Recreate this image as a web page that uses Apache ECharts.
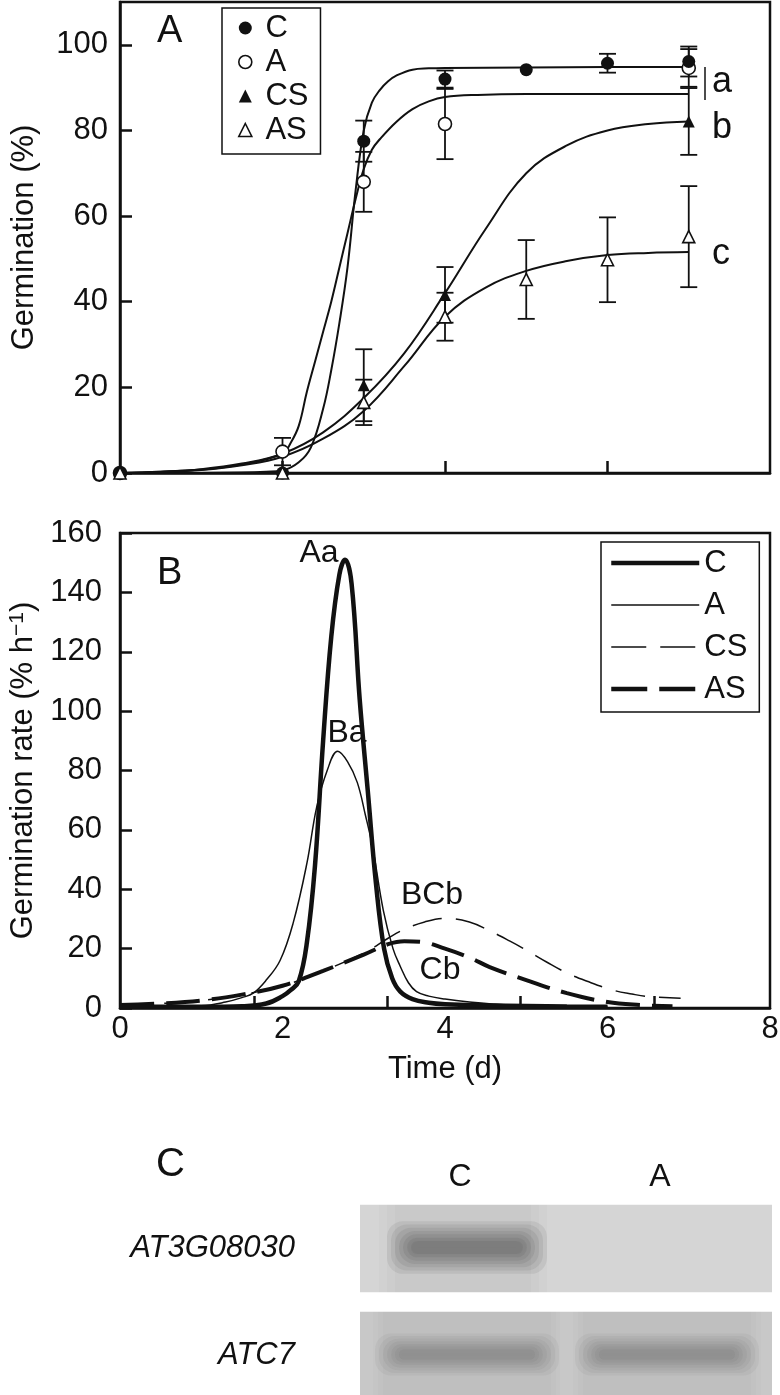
<!DOCTYPE html>
<html><head><meta charset="utf-8">
<script src="https://cdn.jsdelivr.net/npm/echarts@6/dist/echarts.min.js"></script>
<style>html,body{margin:0;padding:0;background:#fff}#c{width:780px;height:1395px}</style>
</head><body><div id="c"></div><script>
// ---------- Panel A: observed germination (%) ----------
const daysC  = [0, 2, 3, 4, 5, 6, 7];
const germC  = [0, 0, 77.5, 92, 94.2, 95.7, 96.1];
const errC   = [0, 0, 4.8, 2, 0, 2.2, 3.5];
const daysA  = [0, 2, 3, 4, 7];
const germA  = [0, 5, 68, 81.5, 94.6];
const errA   = [0, 3.2, 7, 8.2, 4.4];
const daysCS = [0, 2, 3, 4, 7];
const germCS = [0, 0, 20.5, 41.6, 82.1];
const errCS  = [0, 0, 8.4, 6.5, 7.8];
const daysAS = [0, 2, 3, 4, 5, 6, 7];
const germAS = [0, 0, 16.5, 36.5, 45.2, 49.8, 55.2];
const errAS  = [0, 0, 5.3, 5.6, 9.2, 9.9, 11.8];

// ---------- Panel A: fitted curves ----------
const fitTimeC = [0, 1, 1.5, 1.8, 2, 2.2, 2.35, 2.5, 2.6, 2.7, 2.8, 2.9, 3, 3.1, 3.2, 3.3, 3.4, 3.6, 3.8, 4, 5, 6, 7];
const fitC     = [0, 0, 0.1, 0.3, 0.6, 2.5, 6, 15, 24, 35, 48, 66, 80, 86.5, 89.5, 91.5, 92.8, 94.2, 94.5, 94.6, 94.7, 94.8, 94.8];
const fitTimeA = [0, 0.5, 1, 1.5, 2, 2.1, 2.2, 2.3, 2.4, 2.5, 2.6, 2.7, 2.8, 2.9, 3, 3.1, 3.2, 3.4, 3.6, 3.8, 4, 4.4, 5, 6, 7];
const fitA     = [0, 0.3, 0.8, 2, 4.5, 7, 11, 19, 26, 33, 40, 48, 56, 64, 71, 75.5, 78, 82, 85, 86.8, 87.8, 88.3, 88.5, 88.5, 88.5];
const fitTimeS = [0, 0.5, 1, 1.5, 2, 2.5, 3, 3.5, 4, 4.5, 5, 5.5, 6, 6.5, 7];
const fitCS    = [0, 0.3, 0.9, 2.2, 4.5, 9.5, 17.5, 28, 42, 57, 70, 76.5, 80, 81.5, 82.1];
const fitAS    = [0, 0.2, 0.7, 1.8, 3.8, 8, 14.5, 25, 36.5, 43.3, 47.2, 49.5, 50.9, 51.4, 51.6];

// ---------- Panel B: germination rate ----------
const rateTimeC = [0, 0.5, 1, 1.5, 1.8, 2, 2.1, 2.2, 2.3, 2.4, 2.5, 2.6, 2.7, 2.77, 2.85, 2.95, 3.05, 3.15, 3.25, 3.35, 3.45, 3.6, 3.8, 4, 4.5, 5, 5.5, 6];
const rateC     = [0.5, 0.4, 0.4, 0.6, 1.5, 4, 6, 9, 22, 48, 90, 125, 146, 151, 143, 104, 73, 42, 20, 10, 5.5, 3, 1.8, 1.3, 0.9, 0.7, 0.5, 0.4];
const rateTimeA = [0, 0.5, 1, 1.3, 1.5, 1.64, 1.8, 1.97, 2.13, 2.3, 2.42, 2.55, 2.68, 2.8, 2.92, 3.02, 3.11, 3.24, 3.36, 3.45, 3.55, 3.65, 3.8, 4, 4.3, 4.6, 5, 5.5, 6];
const rateA     = [0.5, 0.6, 0.8, 2, 3.5, 5, 9.4, 16, 28.5, 48.7, 67.6, 80, 86.5, 83, 76, 65, 54, 33, 20, 14, 8.5, 5.5, 4, 3, 2, 1.3, 1, 0.7, 0.5];
const rateTimeCS = [0, 0.5, 1, 1.5, 2, 2.5, 3, 3.3, 3.5, 3.75, 4, 4.3, 4.55, 4.8, 5, 5.25, 5.5, 5.75, 6.07, 6.3, 6.52, 6.9];
const rateCS     = [1, 1.5, 2.5, 4.5, 7.5, 12.5, 18.5, 23.5, 26.5, 29, 30.2, 29, 26, 22.5, 19.5, 15.5, 11.8, 9, 6, 4.7, 3.8, 3.3];
const rateTimeAS = [0, 0.5, 1, 1.5, 2, 2.5, 3, 3.3, 3.5, 3.7, 4, 4.3, 4.55, 5, 5.5, 6, 6.4, 6.8];
const rateAS     = [1, 1.5, 2.5, 4.5, 7.5, 12.5, 18, 21.5, 22.5, 22.3, 20, 17, 13.8, 9.4, 5, 2, 1, 0.6];

// ---------- Axis ticks ----------
const ticksAy = [0, 20, 40, 60, 80, 100];
const ticksAx = [2, 4, 6];
const labelsBx = [0, 2, 4, 6, 8];
const ticksBx = [1.65, 3.29, 4.93, 6.57];

// ---------- Panel C: blot (relative band intensity per lane) ----------
const blotLanes = ['C', 'A'];
const blotRows = ['AT3G08030', 'ATC7'];
const bandAT3G08030 = [0.9, 0];
const bandATC7 = [0.7, 0.7];

const FONT = 'Liberation Sans';
const INK = '#111';
const zip = (xs, ys) => xs.map((x, i) => [x, ys[i]]);
const zip3 = (xs, ys, es) => xs.map((x, i) => [x, ys[i], es[i]]);

function renderErr(params, api) {
  const x = api.value(0), y = api.value(1), e = api.value(2);
  if (!e) return null;
  const t = api.coord([x, y + e]), b = api.coord([x, y - e]);
  const hw = 8.5, st = {stroke: INK, lineWidth: 1.8};
  return {type: 'group', children: [
    {type: 'line', shape: {x1: t[0], y1: t[1], x2: b[0], y2: b[1]}, style: st},
    {type: 'line', shape: {x1: t[0] - hw, y1: t[1], x2: t[0] + hw, y2: t[1]}, style: st},
    {type: 'line', shape: {x1: b[0] - hw, y1: b[1], x2: b[0] + hw, y2: b[1]}, style: st}
  ]};
}

// stacked translucent, blurred layers give a soft blot band
function softLayers(kids, cx, cy, w, h, layers, target, dx, dy, round, blur) {
  const a = (1 - Math.pow(1 - target, 1 / (2 * layers))).toFixed(4);
  for (let k = 0; k < layers; k++) {
    const ww = w - 2 * k * dx, hh = h - 2 * k * dy;
    if (ww <= 0 || hh <= 0) break;
    kids.push({type: 'rect', shape: {x: cx - ww / 2, y: cy - hh / 2, width: ww, height: hh, r: round ? Math.min(hh / 2, 16) : 0},
      style: {fill: 'rgba(50,50,50,' + a + ')', shadowBlur: blur, shadowColor: 'rgba(50,50,50,' + a + ')'}});
  }
}

function renderBlot(params, api) {
  const lane = api.value(0), row = api.value(1), inten = api.value(2);
  const c = api.coord([lane, row]);
  const s = api.size([1, 1]);
  const w = s[0], h = s[1];
  const cellH = h * 0.82;
  const top = c[1] - cellH / 2;
  const extra = lane === blotLanes.length - 1 ? 12 : 0;
  const base = row === 0 ? 213 : 200;
  const kids = [{type: 'rect', shape: {x: c[0] - w / 2, y: top, width: w + extra, height: cellH},
    style: {fill: 'rgb(' + base + ',' + base + ',' + base + ')'}}];
  const cx = c[0] + 7;
  const clip = {type: 'group', children: [], clipPath: {type: 'rect', shape: {x: c[0] - w / 2, y: top, width: w + extra, height: cellH}}};
  if (row === 1) softLayers(clip.children, cx, c[1], w * 0.94, cellH + 20, 3, 0.09, 5, 0, false, 10);
  if (inten > 0) {
    if (row === 0) softLayers(clip.children, cx - 4, c[1], w * 0.84, cellH + 20, 3, 0.12 * inten, 8, 0, false, 12);
    const bw = w * (row === 0 ? 0.8 : 0.92), bh = cellH * (row === 0 ? 0.6 : 0.48);
    const n = 7;
    softLayers(clip.children, cx, c[1] - 1, bw, bh, n, 0.75 * inten, 4, bh / (2 * n + 2), true, 7);
  }
  kids.push(clip);
  return {type: 'group', children: kids};
}

const blotData = [];
bandAT3G08030.forEach((v, i) => blotData.push([i, 0, v]));
bandATC7.forEach((v, i) => blotData.push([i, 1, v]));

const axisLine = {lineStyle: {color: INK, width: 2.5}};
const tickStyle = {color: INK, width: 2.5};
const labelStyle = {color: INK, fontSize: 31, fontFamily: FONT};

function fitSeries(name, xs, ys) {
  return {type: 'line', name: name, xAxisIndex: 0, yAxisIndex: 0, data: zip(xs, ys), smooth: 0.4,
    symbol: 'none', silent: true, z: 2, lineStyle: {color: INK, width: 2, opacity: 1}};
}
function errSeries(name, xs, ys, es) {
  return {type: 'custom', name: name, xAxisIndex: 0, yAxisIndex: 0, data: zip3(xs, ys, es), renderItem: renderErr, silent: true, z: 3};
}
function rateSeries(name, xs, ys, width, type) {
  return {type: 'line', name: name, xAxisIndex: 1, yAxisIndex: 1, data: zip(xs, ys), smooth: 0.4,
    symbol: 'none', silent: true, z: 3, lineStyle: {color: INK, width: width, type: type, opacity: 1}, itemStyle: {color: INK}};
}
const openStyle = {color: '#fff', borderColor: INK, borderWidth: 1.6, opacity: 1};
const fillStyle = {color: INK, opacity: 1};

const option = {
  animation: false,
  backgroundColor: '#fff',
  textStyle: {fontFamily: FONT, color: INK},
  grid: [
    {left: 120, top: 2, width: 650, height: 471, show: true, borderColor: INK, borderWidth: 2.5, outerBoundsMode: 'none'},
    {left: 120, top: 533, width: 650, height: 475, show: true, borderColor: INK, borderWidth: 2.5, outerBoundsMode: 'none'},
    {left: 360, top: 1195, width: 400, height: 214, outerBoundsMode: 'none'}
  ],
  xAxis: [
    {gridIndex: 0, type: 'value', min: 0, max: 8, axisLine: axisLine, splitLine: {show: false},
      axisTick: {inside: true, length: 12, customValues: ticksAx, lineStyle: tickStyle}, axisLabel: {show: false}},
    {gridIndex: 1, type: 'value', min: 0, max: 8, interval: 2, axisLine: axisLine, splitLine: {show: false},
      axisTick: {inside: true, length: 12, customValues: ticksBx, lineStyle: tickStyle},
      axisLabel: Object.assign({margin: 6, customValues: labelsBx}, labelStyle),
      name: 'Time (d)', nameLocation: 'middle', nameGap: 46, nameTextStyle: labelStyle},
    {gridIndex: 2, type: 'category', data: blotLanes, position: 'top', axisLine: {show: false}, axisTick: {show: false},
      axisLabel: {color: INK, fontSize: 32, fontFamily: FONT, margin: 2}}
  ],
  yAxis: [
    {gridIndex: 0, type: 'value', min: 0, max: 110, axisLine: axisLine, splitLine: {show: false},
      axisTick: {inside: true, length: 12, customValues: ticksAy, lineStyle: tickStyle},
      axisLabel: Object.assign({margin: 12, customValues: ticksAy}, labelStyle),
      name: 'Germination (%)', nameLocation: 'middle', nameGap: 80, nameTextStyle: labelStyle},
    {gridIndex: 1, type: 'value', min: 0, max: 160, interval: 20, axisLine: axisLine, splitLine: {show: false},
      axisTick: {inside: true, length: 12, lineStyle: tickStyle},
      axisLabel: Object.assign({margin: 18}, labelStyle),
      name: 'Germination rate (% h{sup|−1})', nameLocation: 'middle', nameGap: 74,
      nameTextStyle: Object.assign({rich: {sup: {fontSize: 21, fontFamily: FONT, color: INK, verticalAlign: 'top', padding: [0, 0, 14, 0]}}}, labelStyle)},
    {gridIndex: 2, type: 'category', data: blotRows, inverse: true, axisLine: {show: false}, axisTick: {show: false},
      axisLabel: {color: INK, fontSize: 31, fontFamily: FONT, fontStyle: 'italic', margin: 65}}
  ],
  legend: [
    {left: 222, top: 8, orient: 'vertical', selectedMode: false, data: [
        {name: 'C'}, {name: 'A', itemStyle: {borderWidth: 1.6}}, {name: 'CS'}, {name: 'AS', itemStyle: {borderWidth: 1.6}}],
      formatter: n => ' ' + n,
      itemWidth: 13, itemHeight: 13, itemGap: 0, padding: [3, 12, 7, 16],
      borderColor: INK, borderWidth: 1.5, textStyle: {fontSize: 31, lineHeight: 34, color: INK, fontFamily: FONT}},
    {left: 601, top: 542, orient: 'vertical', selectedMode: false, data: [
        {name: 'rC', lineStyle: {width: 4.5, type: 'solid'}},
        {name: 'rA', lineStyle: {width: 1.5, type: 'solid'}},
        {name: 'rCS', lineStyle: {width: 1.5, type: [35, 14]}},
        {name: 'rAS', lineStyle: {width: 4.5, type: [36, 12]}}],
      formatter: n => n.slice(1), itemStyle: {opacity: 0},
      itemWidth: 88, itemHeight: 14, itemGap: 0, padding: [0, 12, 2, 8],
      borderColor: INK, borderWidth: 1.5, textStyle: {fontSize: 31, lineHeight: 42, color: INK, fontFamily: FONT}}
  ],
  series: [
    fitSeries('fitC', fitTimeC, fitC),
    fitSeries('fitA', fitTimeA, fitA),
    fitSeries('fitCS', fitTimeS, fitCS),
    fitSeries('fitAS', fitTimeS, fitAS),
    errSeries('errA', daysA, germA, errA),
    errSeries('errC', daysC, germC, errC),
    errSeries('errCS', daysCS, germCS, errCS),
    errSeries('errAS', daysAS, germAS, errAS),
    {type: 'scatter', name: 'A', xAxisIndex: 0, yAxisIndex: 0, data: zip(daysA, germA), symbol: 'circle', symbolSize: 13, itemStyle: openStyle, z: 5},
    {type: 'scatter', name: 'C', xAxisIndex: 0, yAxisIndex: 0, data: zip(daysC, germC), symbol: 'circle', symbolSize: 13, itemStyle: fillStyle, z: 5},
    {type: 'scatter', name: 'CS', xAxisIndex: 0, yAxisIndex: 0, data: zip(daysCS, germCS), symbol: 'triangle', symbolSize: 12, itemStyle: fillStyle, z: 6},
    {type: 'scatter', name: 'AS', xAxisIndex: 0, yAxisIndex: 0, data: zip(daysAS, germAS), symbol: 'triangle', symbolSize: 12, itemStyle: openStyle, z: 6},
    rateSeries('rCS', rateTimeCS, rateCS, 1.5, [30, 14]),
    rateSeries('rAS', rateTimeAS, rateAS, 4, [34, 12]),
    rateSeries('rA', rateTimeA, rateA, 1.5, 'solid'),
    rateSeries('rC', rateTimeC, rateC, 4.5, 'solid'),
    {type: 'custom', name: 'blot', xAxisIndex: 2, yAxisIndex: 2, data: blotData, renderItem: renderBlot, silent: true}
  ],
  graphic: [
    {type: 'text', x: 157, y: 32, style: {text: 'A', font: '38px "Liberation Sans"', fill: INK, align: 'left', verticalAlign: 'middle'}},
    {type: 'text', x: 157, y: 574, style: {text: 'B', font: '38px "Liberation Sans"', fill: INK, align: 'left', verticalAlign: 'middle'}},
    {type: 'text', x: 156, y: 1165, style: {text: 'C', font: '40px "Liberation Sans"', fill: INK, align: 'left', verticalAlign: 'middle'}},
    {type: 'line', shape: {x1: 705, y1: 67, x2: 705, y2: 100}, style: {stroke: INK, lineWidth: 1.5}},
    {type: 'text', x: 712, y: 82, style: {text: 'a', font: '36px "Liberation Sans"', fill: INK, align: 'left', verticalAlign: 'middle'}},
    {type: 'text', x: 712, y: 128, style: {text: 'b', font: '36px "Liberation Sans"', fill: INK, align: 'left', verticalAlign: 'middle'}},
    {type: 'text', x: 712, y: 254, style: {text: 'c', font: '36px "Liberation Sans"', fill: INK, align: 'left', verticalAlign: 'middle'}},
    {type: 'text', x: 319, y: 553, style: {text: 'Aa', font: '32px "Liberation Sans"', fill: INK, align: 'center', verticalAlign: 'middle'}},
    {type: 'text', x: 347, y: 733, style: {text: 'Ba', font: '32px "Liberation Sans"', fill: INK, align: 'center', verticalAlign: 'middle'}},
    {type: 'text', x: 432, y: 895, style: {text: 'BCb', font: '32px "Liberation Sans"', fill: INK, align: 'center', verticalAlign: 'middle'}},
    {type: 'text', x: 440, y: 970, style: {text: 'Cb', font: '32px "Liberation Sans"', fill: INK, align: 'center', verticalAlign: 'middle'}}
  ]
};
const chart = echarts.init(document.getElementById('c'), null, {renderer: 'canvas'});
chart.setOption(option);
</script></body></html>
